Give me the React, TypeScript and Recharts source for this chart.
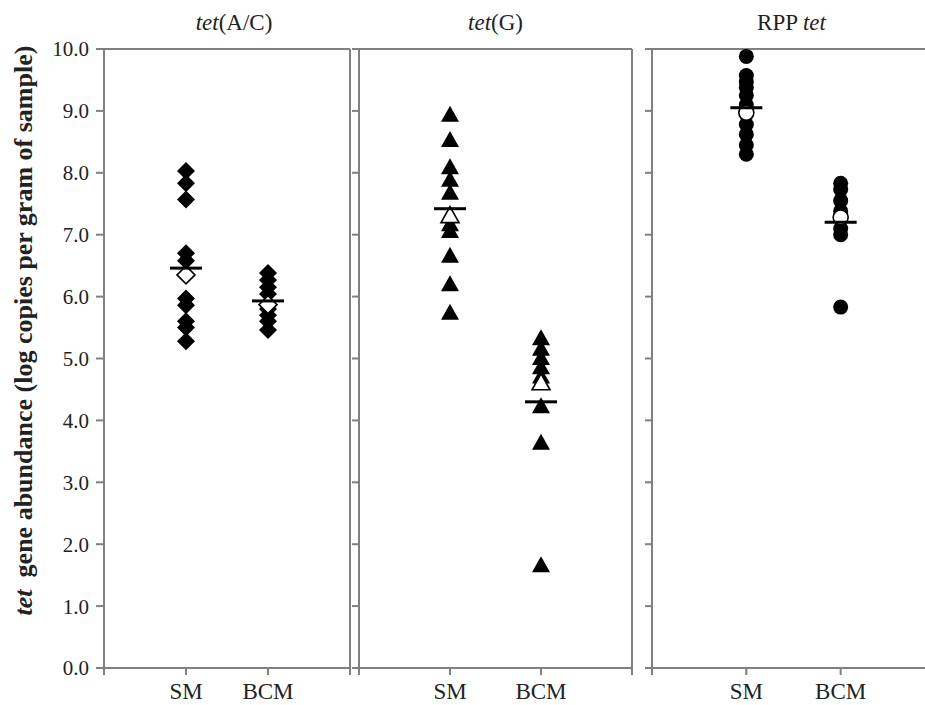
import React from "react";
import {
  ScatterChart,
  Scatter,
  XAxis,
  YAxis,
  ReferenceLine,
} from "recharts";

// category positions on the numeric x axis
const categories = ["SM", "BCM"];
const xTicks = [0, 1, 2, 3];
const yTicks = [0, 1, 2, 3, 4, 5, 6, 7, 8, 9, 10];

// tet(A/C)
const acSm = [8.03, 7.83, 7.57, 6.7, 6.58, 5.97, 5.86, 5.6, 5.5, 5.28];
const acBcm = [6.38, 6.27, 6.15, 6.04, 5.8, 5.7, 5.6, 5.46];
const acMeans = [6.46, 5.93];
const acOpen = [6.35, 5.87];

// tet(G)
const gSm = [8.93, 8.52, 8.08, 7.88, 7.67, 7.16, 7.05, 6.65, 6.19, 5.73];
const gBcm = [5.32, 5.15, 5.0, 4.85, 4.7, 4.22, 3.63, 1.65];
const gMeans = [7.42, 4.3];
const gOpen = [7.3, 4.6];

// RPP tet
const rppSm = [9.88, 9.57, 9.47, 9.38, 9.25, 9.1, 8.78, 8.62, 8.45, 8.3];
const rppBcm = [7.83, 7.73, 7.55, 7.38, 7.1, 7.0, 5.83];
const rppMeans = [9.05, 7.2];
const rppOpen = [8.97, 7.28];

const FONT = "Liberation Serif, Times New Roman, serif";
const AXIS = "#808080";
const TEXT = "#222";

const toPoints = (sm: number[], bcm: number[]) => [
  ...sm.map((y) => ({ x: 1, y })),
  ...bcm.map((y) => ({ x: 2, y })),
];
const pairPoints = (vals: number[]) => vals.map((y, i) => ({ x: i + 1, y }));

type Marker = "diamond" | "triangle" | "circle";

function markerShape(kind: Marker, open: boolean) {
  return (p: any) => {
    const { cx, cy } = p;
    const fill = open ? "#fff" : "#000";
    const stroke = "#000";
    const sw = open ? 1.6 : 0;
    if (kind === "diamond") {
      const r = 9;
      return (
        <path
          d={`M${cx},${cy - r}L${cx + r},${cy}L${cx},${cy + r}L${cx - r},${cy}Z`}
          fill={fill}
          stroke={stroke}
          strokeWidth={sw}
        />
      );
    }
    if (kind === "triangle") {
      return (
        <path
          d={`M${cx},${cy - 9.5}L${cx + 9},${cy + 6.5}L${cx - 9},${cy + 6.5}Z`}
          fill={fill}
          stroke={stroke}
          strokeWidth={sw}
        />
      );
    }
    return <circle cx={cx} cy={cy} r={7.5} fill={fill} stroke={stroke} strokeWidth={sw} />;
  };
}

const meanBar = (p: any) => (
  <line x1={p.cx - 16} x2={p.cx + 16} y1={p.cy} y2={p.cy} stroke="#000" strokeWidth={3} />
);

const YLabel = (props: any) => {
  const vb = props.viewBox || { x: 0, y: 49, height: 619 };
  const cx = vb.x + 23;
  const cy = vb.y + vb.height / 2 - 28;
  return (
    <text
      x={cx}
      y={cy}
      transform={`rotate(-90, ${cx}, ${cy})`}
      textAnchor="middle"
      dominantBaseline="central"
      fontFamily={FONT}
      fontWeight="bold"
      fontSize={26}
      fill={TEXT}
    >
      <tspan fontStyle="italic">tet</tspan>
      <tspan dx={12}>gene abundance (log copies per gram of sample)</tspan>
    </text>
  );
};

const emptyTick = () => <g />;

type PanelProps = {
  left: number;
  width: number;
  axisWidth: number;
  sm: number[];
  bcm: number[];
  means: number[];
  open: number[];
  marker: Marker;
  showLabels?: boolean;
  rightBorder?: boolean;
};

function Panel({ left, width, axisWidth, sm, bcm, means, open, marker, showLabels, rightBorder }: PanelProps) {
  return (
    <div style={{ position: "absolute", left, top: 0 }}>
      <ScatterChart
        width={width}
        height={705}
        margin={{ top: 49, right: 2, bottom: 0, left: 0 }}
      >
        <XAxis
          type="number"
          dataKey="x"
          domain={[0, 3]}
          ticks={xTicks}
          interval={0}
          tickFormatter={(v: number) => (v === 1 || v === 2 ? categories[v - 1] : "")}
          height={37}
          stroke={AXIS}
          strokeWidth={2}
          tickSize={7}
          tickMargin={8}
          tick={{ fill: TEXT, fontSize: 23, fontFamily: FONT }}
        />
        <YAxis
          type="number"
          dataKey="y"
          domain={[0, 10]}
          ticks={yTicks}
          interval={0}
          width={axisWidth}
          stroke={AXIS}
          strokeWidth={2}
          tickSize={axisWidth > 20 ? 8 : 7}
          tickMargin={7}
          tickFormatter={(v: number) => v.toFixed(1)}
          tick={showLabels ? { fill: TEXT, fontSize: 21, fontFamily: FONT } : emptyTick}
          label={showLabels ? <YLabel /> : undefined}
        />
        <ReferenceLine y={10} stroke={AXIS} strokeWidth={2} />
        {rightBorder && <ReferenceLine x={3} stroke={AXIS} strokeWidth={2} />}
        <Scatter
          data={toPoints(sm, bcm)}
          shape={markerShape(marker, false)}
          isAnimationActive={false}
        />
        <Scatter
          data={pairPoints(open)}
          shape={markerShape(marker, true)}
          isAnimationActive={false}
        />
        <Scatter data={pairPoints(means)} shape={meanBar} isAnimationActive={false} />
      </ScatterChart>
    </div>
  );
}

const titleStyle: React.CSSProperties = {
  position: "absolute",
  top: 10,
  fontFamily: FONT,
  fontSize: 23,
  lineHeight: "26px",
  color: TEXT,
  textAlign: "center",
  whiteSpace: "nowrap",
};

export default function App() {
  return (
    <div
      style={{
        position: "fixed",
        left: 0,
        top: 0,
        width: 925,
        height: 705,
        overflow: "hidden",
        background: "#fff",
      }}
    >
      <div style={{ ...titleStyle, left: 111, width: 246 }}>
        <i>tet</i>(A/C)
      </div>
      <div style={{ ...titleStyle, left: 359, width: 273 }}>
        <i>tet</i>(G)
      </div>
      <div style={{ ...titleStyle, left: 650, width: 283 }}>
        RPP <i>tet</i>
      </div>
      <Panel
        left={0}
        width={352}
        axisWidth={104}
        sm={acSm}
        bcm={acBcm}
        means={acMeans}
        open={acOpen}
        marker="diamond"
        showLabels
        rightBorder
      />
      <Panel
        left={352}
        width={282}
        axisWidth={7}
        sm={gSm}
        bcm={gBcm}
        means={gMeans}
        open={gOpen}
        marker="triangle"
        rightBorder
      />
      <Panel
        left={645}
        width={292}
        axisWidth={7}
        sm={rppSm}
        bcm={rppBcm}
        means={rppMeans}
        open={rppOpen}
        marker="circle"
      />
    </div>
  );
}
